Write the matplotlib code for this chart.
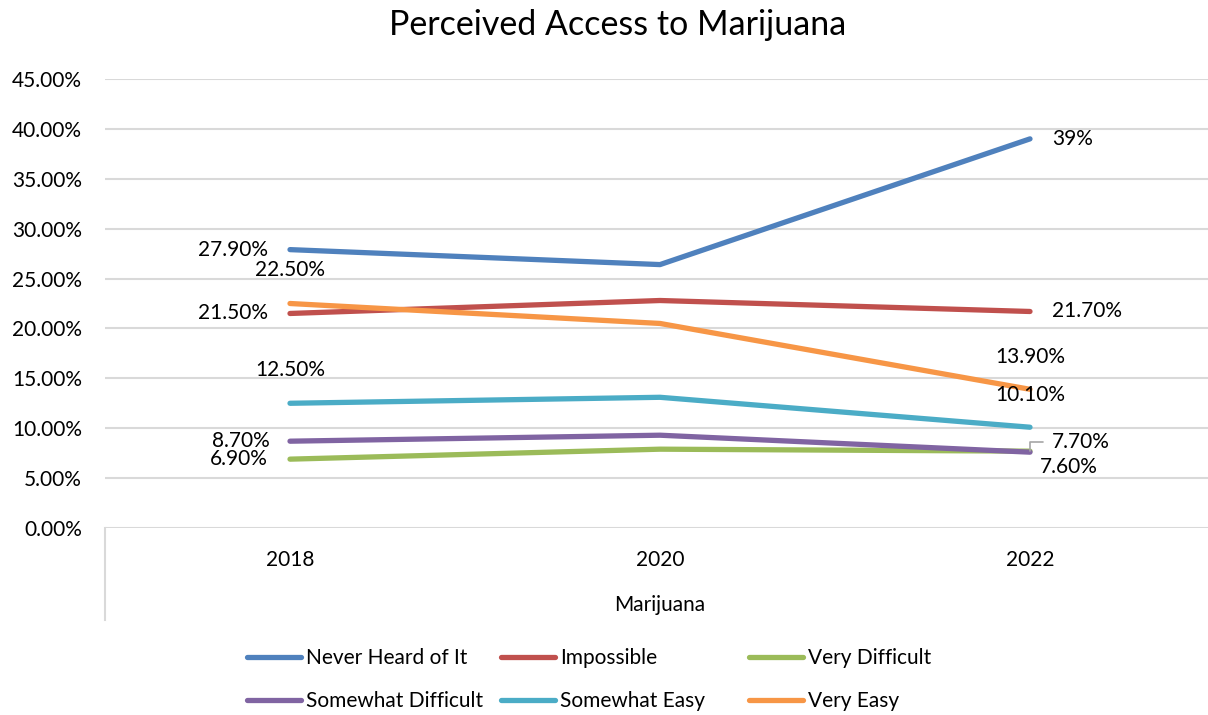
import matplotlib.pyplot as plt
from matplotlib.ticker import PercentFormatter
import matplotlib.transforms as mtransforms

plt.rcParams['font.family'] = ['Lato', 'DejaVu Sans']

output = "out.png"
fz = 15

years = ['2018', '2020', '2022']
never_heard = [27.9, 26.4, 39.0]
impossible = [21.5, 22.8, 21.7]
very_difficult = [6.9, 7.9, 7.7]
somewhat_difficult = [8.7, 9.3, 7.6]
somewhat_easy = [12.5, 13.1, 10.1]
very_easy = [22.5, 20.5, 13.9]

# labels shown next to the first and last points
first_labels = ['27.90%', '21.50%', '6.90%', '8.70%', '12.50%', '22.50%']
last_labels = ['39%', '21.70%', '7.70%', '7.60%', '10.10%', '13.90%']

names = ['Never Heard of It', 'Impossible', 'Very Difficult',
         'Somewhat Difficult', 'Somewhat Easy', 'Very Easy']
colors = ['#4F81BD', '#C0504D', '#9BBB59', '#8064A2', '#4BACC6', '#F79646']
series = [never_heard, impossible, very_difficult, somewhat_difficult, somewhat_easy, very_easy]

# offsets (pixels) and alignment for the labels
first_pos = [((-22, 0), 'right'), ((-22, 0), 'right'), ((-22, 0), 'right'),
             ((-20, 0), 'right'), ((0, 33), 'center'), ((0, 33), 'center')]
last_pos = [((22, 0), 'left'), ((22, 0), 'left'), ((22, 9), 'left'),
            ((10, -15), 'left'), ((0, 32), 'center'), ((0, 32), 'center')]

fig = plt.figure(figsize=(12.08, 7.15), dpi=100)
ax = fig.add_axes([105 / 1208, 187 / 715, 1103 / 1208, 449 / 715])

x = range(len(years))
handles = []
for vals, name, c in zip(series, names, colors):
    h, = ax.plot(x, vals, '-', color=c, linewidth=3.8, solid_capstyle='round', label=name, zorder=3)
    handles.append(h)

for i, vals in enumerate(series):
    (dx, dy), ha = first_pos[i]
    ax.annotate(first_labels[i], (0, vals[0]), xytext=(dx, dy), textcoords='offset pixels',
                ha=ha, va='center', fontsize=fz)
    (dx, dy), ha = last_pos[i]
    ax.annotate(last_labels[i], (2, vals[2]), xytext=(dx, dy), textcoords='offset pixels',
                ha=ha, va='center', fontsize=fz)

# leader line for the 7.70% label
ax.annotate('', (2, very_difficult[2]), xytext=(13, 9), textcoords='offset pixels',
            arrowprops=dict(arrowstyle='-', color='#A6A6A6', lw=1.2,
                            connectionstyle='angle,angleA=0,angleB=90,rad=0',
                            shrinkA=0, shrinkB=0))

ax.set_ylim(0, 45)
ax.set_xlim(-0.5, -0.5 + 1103 / 370)
ax.set_yticks(range(0, 50, 5))
ax.yaxis.set_major_formatter(PercentFormatter(decimals=2))
ax.yaxis.grid(True, color='#D9D9D9', linewidth=1.5)
ax.set_axisbelow(True)
for s in ax.spines.values():
    s.set_visible(False)
ax.set_xticks(list(x))
ax.set_xticklabels(years)
ax.tick_params(axis='y', length=0, pad=16.5, labelsize=fz)
ax.tick_params(axis='x', length=0, pad=16, labelsize=fz)

blend = mtransforms.blended_transform_factory(ax.transData, ax.transAxes)
ax.plot([-0.5, -0.5], [0, -92 / 449], color='#D9D9D9', linewidth=1.5, transform=blend, clip_on=False)
ax.text(1, -77 / 449, 'Marijuana', transform=blend, ha='center', va='center', fontsize=fz)

fig.text(618 / 1208, 1 - 25 / 715, 'Perceived Access to Marijuana', ha='center', va='center', fontsize=24.5)

# legend in three fixed columns, two rows each
col_x = [247, 501, 749]
for k in range(3):
    fig.legend([handles[k], handles[k + 3]], [names[k], names[k + 3]],
               loc='upper left', bbox_to_anchor=(col_x[k] / 1208, 1 - 648 / 715),
               frameon=False, fontsize=fz, handlelength=2.6, handletextpad=0.25,
               labelspacing=1.12, borderpad=0, borderaxespad=0)

plt.savefig(output, dpi=100)
plt.close()
